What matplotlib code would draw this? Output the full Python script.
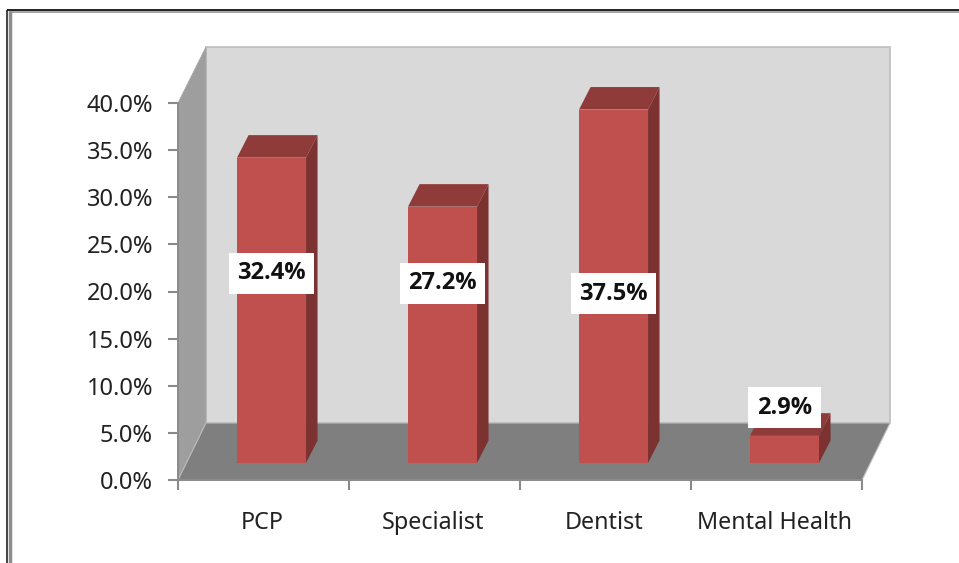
import matplotlib
matplotlib.use("Agg")
import matplotlib.pyplot as plt
from matplotlib.patches import Polygon

categories = ["PCP", "Specialist", "Dentist", "Mental Health"]
values = [32.4, 27.2, 37.5, 2.9]
labels = ["32.4%", "27.2%", "37.5%", "2.9%"]
yticks = [0, 5, 10, 15, 20, 25, 30, 35, 40]
label_y = [21.95, 20.9, 19.75, 7.65]

W, H = 959, 563
L, R, B, T = 178, 862, 480, 103
fig = plt.figure(figsize=(W / 100, H / 100), dpi=100, facecolor="white")

# outer page frame
def frame(xs, ys, c, lw):
    fig.add_artist(plt.Line2D([x / W for x in xs], [1 - y / H for y in ys], color=c, lw=lw,
                              transform=fig.transFigure, solid_capstyle="butt"))
frame([6.5, 6.5], [9.5, H], "#111111", 1.1)
frame([6.5, W], [9.8, 9.8], "#111111", 1.3)
frame([9.8, 9.8], [11, H], "#8c8c8c", 2.5)
frame([8.5, W], [11.6, 11.6], "#8c8c8c", 1.1)

ax = fig.add_axes([L / W, 1 - B / H, (R - L) / W, (B - T) / H])
ax.set_xlim(0, 4)
ax.set_ylim(0, 40)
ax.patch.set_visible(False)

px = 4 / (R - L)
py = 40 / (B - T)
wall_dx, wall_dy = 28 * px, 57 * py
bar_dx, bar_dy = 11.5 * px, 22.5 * py
base = 17 * py
bw = 69 * px
offset = 0.547
top_wall = 39.9

edge = "#bdbdbd"
ax.add_patch(Polygon([(wall_dx, wall_dy), (4 + wall_dx, wall_dy), (4 + wall_dx, top_wall + wall_dy), (wall_dx, top_wall + wall_dy)],
                     fc="#d9d9d9", ec=edge, lw=1.2, clip_on=False, zorder=1))
ax.add_patch(Polygon([(0, 0), (wall_dx, wall_dy), (wall_dx, top_wall + wall_dy), (0, 40)],
                     fc="#9e9e9e", ec="#a8a8a8", lw=0.6, clip_on=False, zorder=1))
ax.add_patch(Polygon([(0, 0), (4, 0), (4 + wall_dx, wall_dy), (wall_dx, wall_dy)],
                     fc="#7f7f7f", ec=edge, lw=0.8, clip_on=False, zorder=1.5))

xs = [i + offset for i in range(len(values))]
ax.bar(xs, values, width=bw, bottom=base, color="#c0504d", zorder=3, clip_on=False)
for x, v in zip(xs, values):
    x0, x1 = x - bw / 2, x + bw / 2
    top = base + v
    ax.add_patch(Polygon([(x0, top), (x1, top), (x1 + bar_dx, top + bar_dy), (x0 + bar_dx, top + bar_dy)],
                         fc="#8f3b39", ec="none", zorder=3, clip_on=False))
    ax.add_patch(Polygon([(x1, base), (x1 + bar_dx, base + bar_dy), (x1 + bar_dx, top + bar_dy), (x1, top)],
                         fc="#7c3230", ec="none", zorder=3, clip_on=False))

for x, y, s in zip(xs, label_y, labels):
    ax.text(x, y, s, ha="center", va="center", fontsize=17, fontweight="bold",
            family="Open Sans", color="#111111", zorder=5,
            bbox=dict(fc="white", ec="none", boxstyle="square,pad=0.36"))

for side in ("top", "right"):
    ax.spines[side].set_visible(False)
for side in ("left", "bottom"):
    ax.spines[side].set_color("#8a8a8a")
    ax.spines[side].set_linewidth(1.4)
    ax.spines[side].set_zorder(2)

ax.set_yticks(yticks)
ax.set_yticklabels([f"{v:.1f}%" for v in yticks], fontsize=17, family="Noto Sans", color="#222222")
ax.set_xticks(range(5))
ax.set_xticklabels([])
ax.tick_params(axis="both", color="#8a8a8a", width=1.5, length=7)
ax.tick_params(axis="y", pad=11)

for i, c in enumerate(categories):
    ax.annotate(c, (i + 0.49, 0), xytext=(0, -49), textcoords="offset pixels",
                ha="center", va="baseline", fontsize=16.8, family="Noto Sans", color="#222222", annotation_clip=False)

fig.savefig("out.png", dpi=100)
